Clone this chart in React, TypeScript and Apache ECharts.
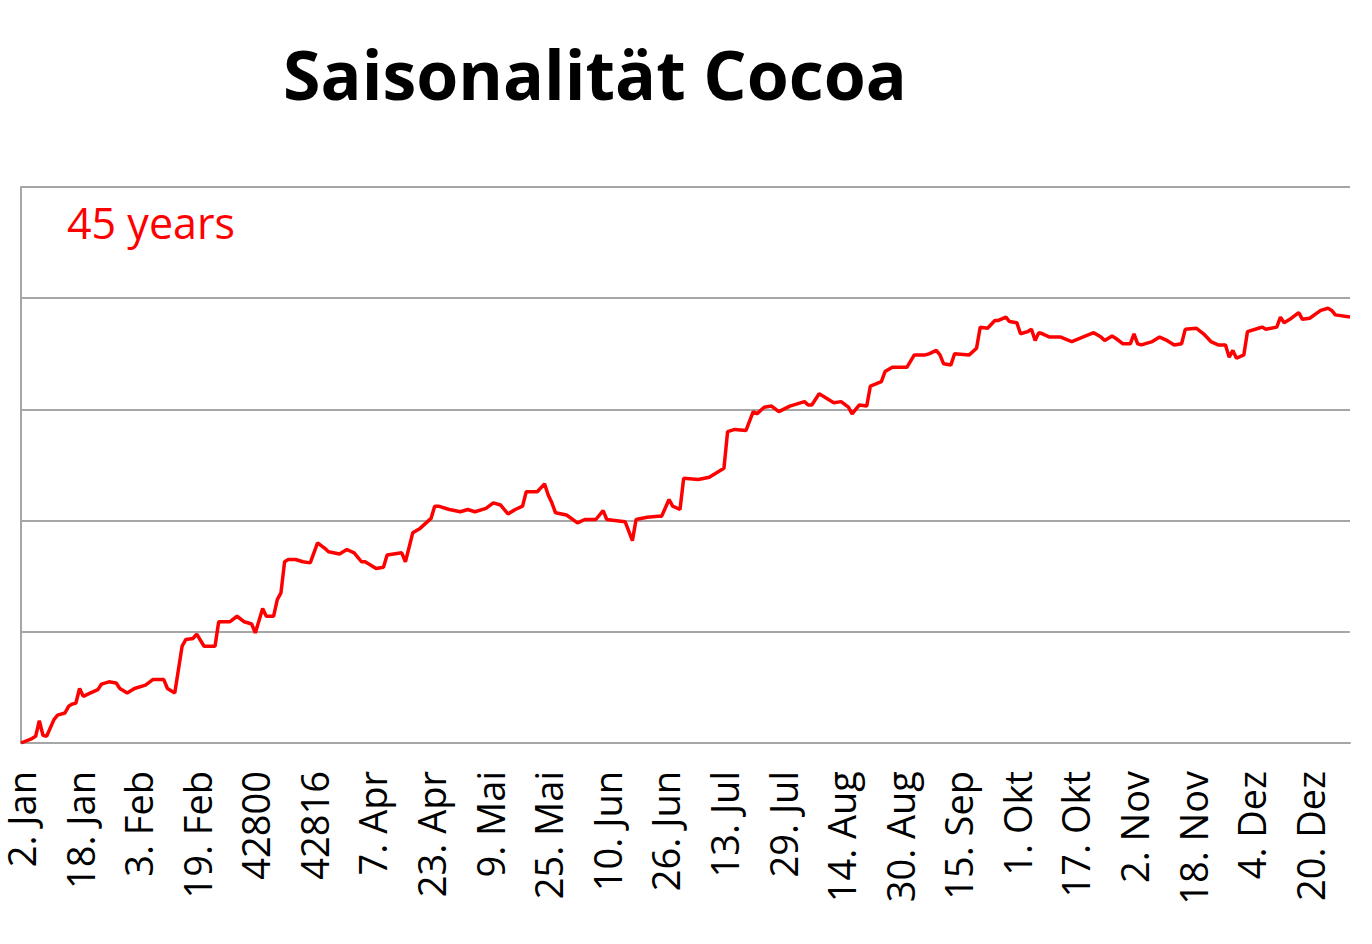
import React, { useEffect, useRef } from "react";
import * as echarts from "echarts";

const tickLabels = [
  "2. Jan", "18. Jan", "3. Feb", "19. Feb", "42800", "42816", "7. Apr", "23. Apr",
  "9. Mai", "25. Mai", "10. Jun", "26. Jun", "13. Jul", "29. Jul", "14. Aug", "30. Aug",
  "15. Sep", "1. Okt", "17. Okt", "2. Nov", "18. Nov", "4. Dez", "20. Dez",
];
const DAY_COUNT = 364;
const LABEL_STEP = 16;

// day index (0 = 2. Jan) of each vertex of the seasonal curve
const dayIndex = [
  0, 3, 4, 5, 6, 7, 9, 10, 12, 13, 14, 15, 16, 17, 19, 21, 22, 24, 26, 27, 29, 31, 34, 36, 39, 40,
  42, 44, 45, 47, 48, 50, 53, 54, 57, 59, 61, 63, 64, 66, 67, 69, 70, 71, 72, 73, 75, 77, 79, 81,
  83, 84, 87, 89, 91, 93, 94, 97, 99, 100, 104, 105, 107, 109, 112, 113, 114, 117, 120, 122, 124,
  127, 129, 131, 133, 135, 137, 138, 141, 143, 144, 145, 146, 149, 152, 154, 157, 159, 160, 165,
  167, 168, 171, 174, 175, 177, 178, 180, 181, 185, 188, 190, 192, 193, 195, 198, 200, 201, 203,
  205, 207, 210, 212, 214, 215, 216, 218, 220, 222, 224, 226, 227, 229, 231, 232, 235, 236, 238,
  242, 244, 247, 248, 250, 251, 252, 254, 255, 259, 261, 262, 264, 266, 267, 269, 270, 272, 273,
  275, 276, 277, 278, 279, 281, 284, 287, 290, 293, 295, 296, 298, 299, 301, 303, 304, 305, 306,
  309, 311, 313, 315, 317, 318, 321, 323, 325, 327, 329, 330, 331, 332, 334, 335, 338, 339, 340,
  343, 344, 345, 347, 349, 350, 352, 355, 357, 358, 359, 363,
];
// cumulative seasonal value at each vertex
const seasonalValues = [
  0.0, 0.4, 0.6, 2.0, 0.7, 0.6, 2.1, 2.5, 2.7, 3.3, 3.5, 3.6, 4.9, 4.2, 4.5, 4.8, 5.3, 5.5, 5.4, 4.9,
  4.5, 4.9, 5.2, 5.7, 5.7, 4.9, 4.5, 8.7, 9.3, 9.4, 9.8, 8.7, 8.7, 10.9, 10.9, 11.4, 10.9, 10.7, 9.9,
  12.1, 11.4, 11.4, 12.9, 13.5, 16.3, 16.5, 16.5, 16.3, 16.2, 18.0, 17.5, 17.2, 17.0, 17.4, 17.1,
  16.3, 16.3, 15.7, 15.8, 16.9, 17.1, 16.3, 18.9, 19.3, 20.2, 21.3, 21.3, 21.0, 20.8, 21.0, 20.8,
  21.1, 21.6, 21.4, 20.6, 21.0, 21.3, 22.6, 22.6, 23.3, 22.3, 21.6, 20.7, 20.5, 19.8, 20.1, 20.1,
  20.9, 20.1, 19.9, 18.2, 20.1, 20.3, 20.4, 20.4, 21.9, 21.3, 21.0, 23.8, 23.7, 23.9, 24.3, 24.7,
  28.0, 28.2, 28.1, 29.8, 29.6, 30.2, 30.3, 29.8, 30.3, 30.5, 30.7, 30.4, 30.4, 31.4, 31.0, 30.6,
  30.7, 30.2, 29.6, 30.4, 30.3, 32.1, 32.5, 33.4, 33.8, 33.8, 34.9, 34.9, 35.0, 35.3, 34.9, 34.1,
  34.0, 35.0, 34.9, 35.5, 37.4, 37.3, 38.0, 38.0, 38.3, 37.9, 37.8, 36.8, 37.0, 37.2, 36.2, 36.9,
  36.8, 36.5, 36.5, 36.1, 36.5, 36.9, 36.5, 36.2, 36.6, 36.4, 35.9, 35.9, 36.8, 35.9, 35.8, 36.1,
  36.5, 36.2, 35.8, 35.9, 37.2, 37.3, 36.8, 36.1, 35.8, 35.8, 34.7, 35.3, 34.6, 34.9, 37.0, 37.3,
  37.4, 37.2, 37.4, 38.3, 37.8, 38.2, 38.7, 38.1, 38.2, 38.9, 39.1, 38.9, 38.5, 38.3,
];

const categories = Array.from({ length: DAY_COUNT }, (_, i) =>
  i % LABEL_STEP === 0 ? tickLabels[i / LABEL_STEP] : ""
);

export default function App() {
  const ref = useRef<HTMLDivElement>(null);
  useEffect(() => {
    if (!ref.current) return;
    const chart = echarts.init(ref.current, null, { renderer: "svg" });
    const grey = "#a6a6a6";
    chart.setOption({
      animation: false,
      backgroundColor: "#ffffff",
      title: {
        text: "Saisonalität Cocoa",
        left: 590,
        top: 34,
        textAlign: "center",
        textStyle: { fontFamily: "Open Sans", fontWeight: "bold", fontSize: 68, color: "#000" },
      },
      graphic: [
        {
          type: "text",
          left: 67,
          top: 201,
          style: { text: "45 years", fill: "#ff0000", font: "43px 'Open Sans'" },
        },
      ],
      grid: { left: 21, right: 22, top: 187, bottom: 201, containLabel: false },
      xAxis: {
        type: "category",
        data: categories,
        boundaryGap: false,
        axisLine: { show: true, lineStyle: { color: grey, width: 2 } },
        axisTick: { show: false },
        axisLabel: {
          interval: LABEL_STEP - 1,
          rotate: 90,
          margin: 28,
          fontFamily: "Open Sans",
          fontSize: 38,
          lineHeight: 38,
          color: "#000",
        },
        splitLine: { show: false },
      },
      yAxis: {
        type: "value",
        min: 0,
        max: 50,
        interval: 10,
        axisLine: { show: true, lineStyle: { color: grey, width: 2 } },
        axisTick: { show: false },
        axisLabel: { show: false },
        splitLine: { show: true, lineStyle: { color: grey, width: 2 } },
      },
      series: [
        {
          type: "line",
          data: dayIndex.map((d, i) => [d, seasonalValues[i]]),
          showSymbol: false,
          symbol: "none",
          lineStyle: { color: "#ff0000", width: 3.5 },
          itemStyle: { color: "#ff0000" },
        },
      ],
    });
    return () => chart.dispose();
  }, []);
  return (
    <div
      ref={ref}
      style={{ position: "absolute", left: 0, top: 0, width: 1372, height: 944 }}
    />
  );
}
